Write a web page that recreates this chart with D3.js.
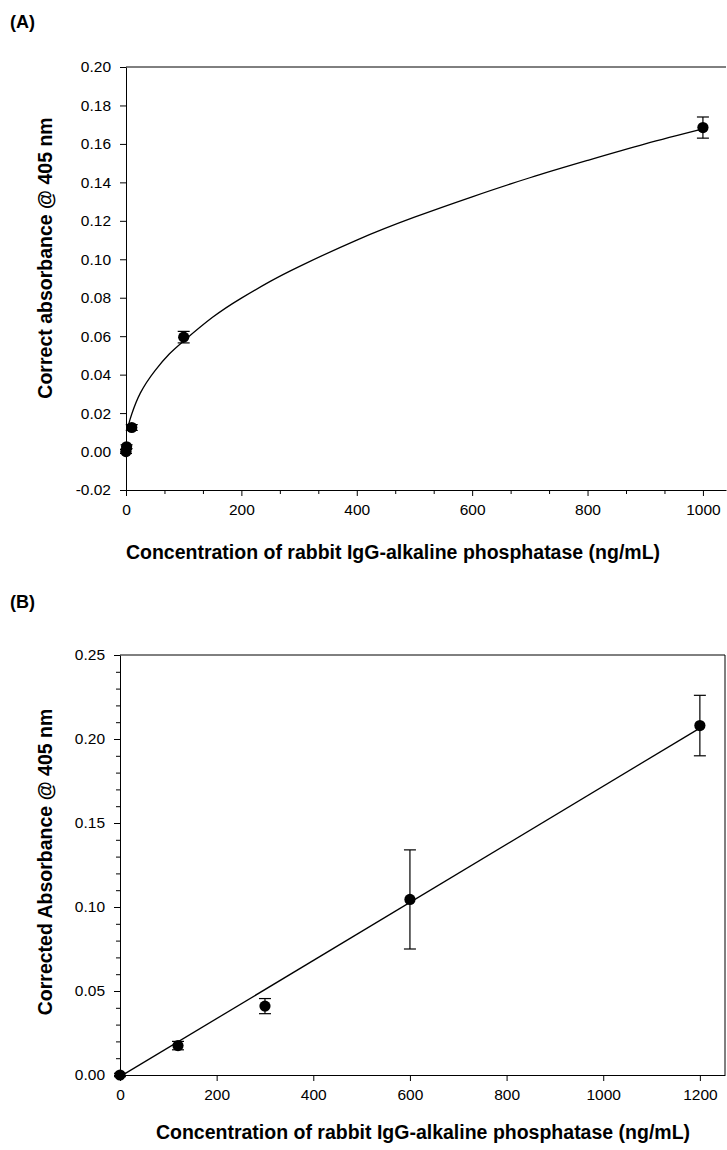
<!DOCTYPE html>
<html lang="en">
<head>
  <meta charset="UTF-8" />
  <title>Absorbance vs concentration</title>
  <script src="https://d3js.org/d3.v7.min.js"></script>
  <style>
    body { margin: 0; background: #fff; }
    svg { font-family: "Liberation Sans", Arial, sans-serif; }
    .axis path, .axis line { stroke: #000; stroke-width: 1px; }
    .axis text { font-size: 15.5px; fill: #000; }
    .title { font-size: 19.5px; font-weight: bold; }
    .panel { font-size: 18px; font-weight: bold; }
  </style>
</head>
<body>
  <svg width="727" height="1150"></svg>
  <script>
    // Panel A data
    const concA = [0, 1, 10, 100, 1000];
    const absA = [0.000, 0.0025, 0.0125, 0.0595, 0.1685];
    const errA = [0.001, 0.001, 0.0015, 0.003, 0.0055];
    // fitted curve
    const curveXA = [3, 5, 10, 25, 50, 75, 100, 150, 200, 250, 300, 400, 500, 600, 700, 800, 900, 1000];
    const curveYA = [0.0115, 0.0145, 0.0195, 0.0305, 0.042, 0.0507, 0.0575, 0.0698, 0.0798, 0.0885, 0.0962, 0.110, 0.1219, 0.1325, 0.1424, 0.1514, 0.160, 0.1678];
    const xTicksA = [0, 200, 400, 600, 800, 1000];
    const yTicksA = [-0.02, 0.00, 0.02, 0.04, 0.06, 0.08, 0.10, 0.12, 0.14, 0.16, 0.18, 0.20];

    // Panel B data
    const concB = [0, 120, 300, 600, 1200];
    const absB = [0.000, 0.0175, 0.041, 0.1045, 0.208];
    const errB = [0.001, 0.0025, 0.0045, 0.0295, 0.018];
    const lineXB = [0, 1200];
    const lineYB = [-0.001, 0.2065];
    const xTicksB = [0, 200, 400, 600, 800, 1000, 1200];
    const yTicksB = [0.00, 0.05, 0.10, 0.15, 0.20, 0.25];

    const svg = d3.select("svg");

    function drawPanel(o) {
      const g = svg.append("g");
      const x = d3.scaleLinear().domain(o.xDomain).range([o.left, o.right]);
      const y = d3.scaleLinear().domain(o.yDomain).range([o.bottom, o.top]);

      // frame lines
      g.append("line").attr("x1", o.left).attr("x2", o.right)
        .attr("y1", o.top).attr("y2", o.top).attr("stroke", "#000");
      if (o.rightFrame) {
        g.append("line").attr("x1", o.right).attr("x2", o.right)
          .attr("y1", o.top).attr("y2", o.bottom).attr("stroke", "#000");
      }

      // minor ticks
      if (o.xMinor) {
        g.append("g").attr("class", "axis")
          .attr("transform", `translate(0,${o.bottom})`)
          .call(d3.axisBottom(x).tickValues(o.xMinor).tickSize(4).tickFormat(""))
          .call(a => a.select(".domain").remove());
      }
      if (o.yMinor) {
        g.append("g").attr("class", "axis")
          .attr("transform", `translate(${o.left},0)`)
          .call(d3.axisLeft(y).tickValues(o.yMinor).tickSize(4).tickFormat(""))
          .call(a => a.select(".domain").remove());
      }

      g.append("g").attr("class", "axis")
        .attr("transform", `translate(0,${o.bottom})`)
        .call(d3.axisBottom(x).tickValues(o.xTicks).tickSize(6).tickSizeOuter(0).tickPadding(8).tickFormat(d3.format("d")));
      g.append("g").attr("class", "axis")
        .attr("transform", `translate(${o.left},0)`)
        .call(d3.axisLeft(y).tickValues(o.yTicks).tickSize(6).tickSizeOuter(0).tickPadding(9)
          .tickFormat(d => d3.format(".2f")(d).replace("−", "-")));

      // fitted line
      const line = d3.line().x(d => x(d[0])).y(d => y(d[1])).curve(d3.curveNatural);
      g.append("path")
        .datum(d3.zip(o.fitX, o.fitY))
        .attr("fill", "none").attr("stroke", "#000").attr("stroke-width", 1.3)
        .attr("d", line);

      // error bars
      const pts = o.cx.map((c, i) => ({ c, v: o.cy[i], e: o.err[i] }));
      const eb = g.append("g").attr("stroke", "#000").attr("stroke-width", 1.2);
      pts.forEach(p => {
        eb.append("line").attr("x1", x(p.c)).attr("x2", x(p.c))
          .attr("y1", y(p.v - p.e)).attr("y2", y(p.v + p.e));
        [p.v - p.e, p.v + p.e].forEach(v => {
          eb.append("line").attr("x1", x(p.c) - 6).attr("x2", x(p.c) + 6)
            .attr("y1", y(v)).attr("y2", y(v));
        });
      });

      g.append("g").selectAll("circle").data(pts).join("circle")
        .attr("cx", d => x(d.c)).attr("cy", d => y(d.v)).attr("r", 5.6)
        .attr("fill", "#000");

      g.append("text").attr("class", "title")
        .attr("x", o.xTitle[0]).attr("y", o.xTitle[1])
        .attr("text-anchor", "middle").text(o.xLabel);
      g.append("text").attr("class", "title")
        .attr("transform", `translate(${o.yTitle[0]},${o.yTitle[1]}) rotate(-90)`)
        .attr("text-anchor", "middle").text(o.yLabel);
      g.append("text").attr("class", "panel")
        .attr("x", 10).attr("y", o.panelY).text(o.panel);
    }

    const minorA = d3.range(0, 1040, 200 / 3).filter(v => Math.abs(v / 200 - Math.round(v / 200)) > 0.01);
    drawPanel({
      panel: "(A)", panelY: 28,
      left: 126, right: 726, top: 67, bottom: 490,
      xDomain: [0, 1040], yDomain: [-0.02, 0.20],
      xTicks: xTicksA, yTicks: yTicksA, xMinor: minorA, yMinor: null,
      cx: concA, cy: absA, err: errA, fitX: curveXA, fitY: curveYA,
      rightFrame: false,
      xLabel: "Concentration of rabbit IgG-alkaline phosphatase (ng/mL)",
      yLabel: "Correct absorbance @ 405 nm",
      xTitle: [393, 559], yTitle: [52, 258]
    });

    const minorB = d3.range(0, 0.2501, 0.01).filter(v => Math.abs(v / 0.05 - Math.round(v / 0.05)) > 0.01);
    drawPanel({
      panel: "(B)", panelY: 608,
      left: 120, right: 725, top: 655, bottom: 1075,
      xDomain: [0, 1252], yDomain: [0, 0.25],
      xTicks: xTicksB, yTicks: yTicksB, xMinor: null, yMinor: minorB,
      cx: concB, cy: absB, err: errB, fitX: lineXB, fitY: lineYB,
      rightFrame: true,
      xLabel: "Concentration of rabbit IgG-alkaline phosphatase (ng/mL)",
      yLabel: "Corrected Absorbance @ 405 nm",
      xTitle: [423, 1139], yTitle: [52, 862]
    });
  </script>
</body>
</html>
